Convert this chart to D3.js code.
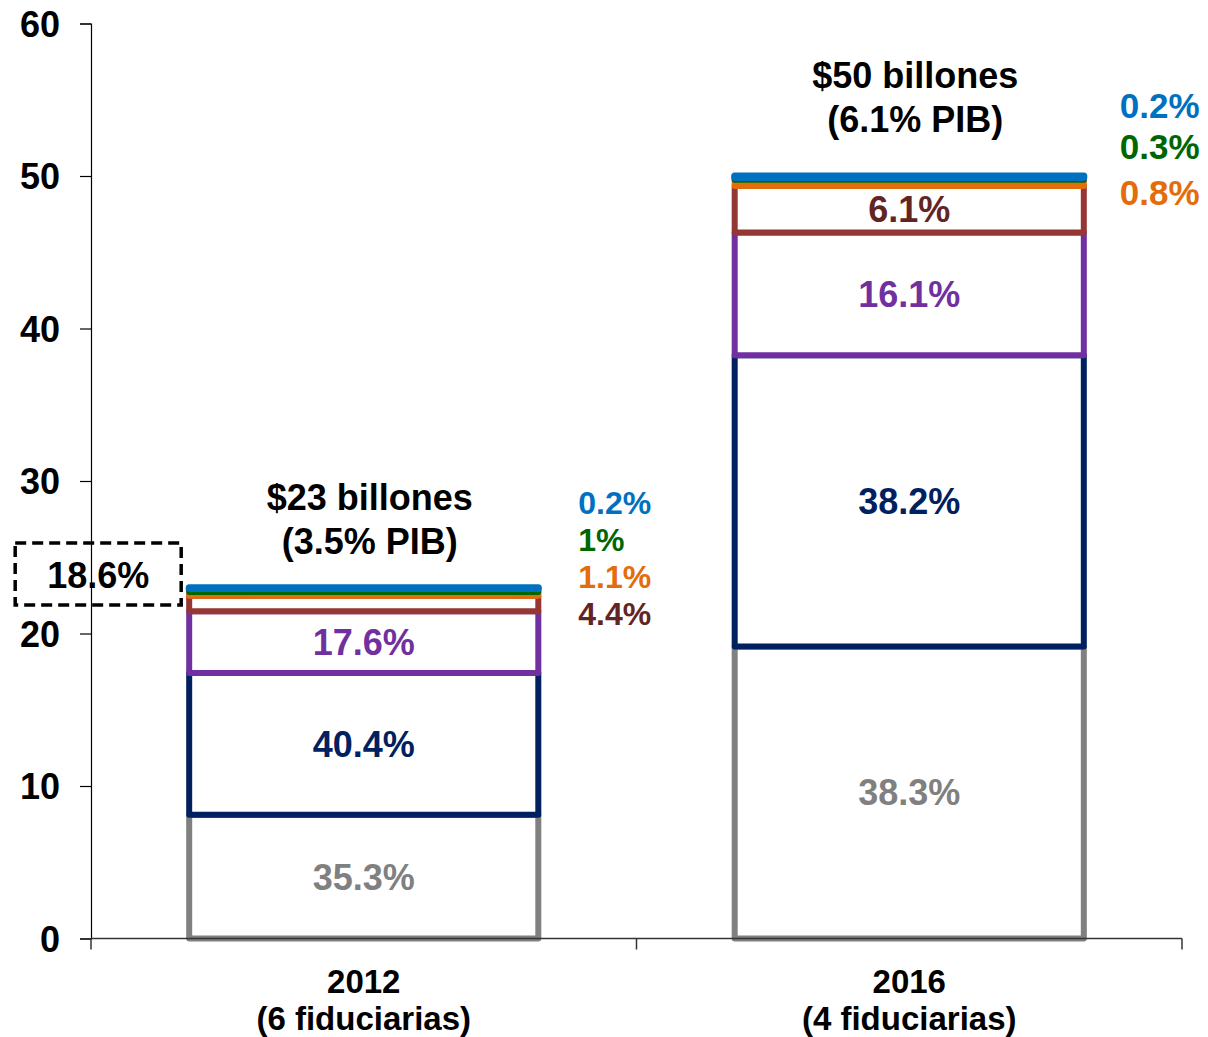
<!DOCTYPE html>
<html>
<head>
<meta charset="utf-8">
<script src="https://cdn.jsdelivr.net/npm/d3@7"></script>
<style>
  body { margin: 0; background: #fff; }
  svg text { font-family: "Liberation Sans", Arial, sans-serif; font-weight: bold; }
</style>
</head>
<body>
<script>
// datos
var categories = ["2012", "2016"];
var subLabels = ["(6 fiduciarias)", "(4 fiduciarias)"];
var totals = [23, 50];
var totalLines = [["$23 billones", "(3.5% PIB)"], ["$50 billones", "(6.1% PIB)"]];
var seriesKeys = ["gris", "marino", "morado", "cafe", "naranja", "verde", "azul"];
var shares2012 = [35.3, 40.4, 17.6, 4.4, 1.1, 1, 0.2];
var shares2016 = [38.3, 38.2, 16.1, 6.1, 0.8, 0.3, 0.2];
var shareLabels2012 = ["35.3%", "40.4%", "17.6%", "4.4%", "1.1%", "1%", "0.2%"];
var shareLabels2016 = ["38.3%", "38.2%", "16.1%", "6.1%", "0.8%", "0.3%", "0.2%"];
var yTicks = [0, 10, 20, 30, 40, 50, 60];
var boxLabel = "18.6%";

var strokeColors = ["#808080", "#002060", "#7030A0", "#953735", "#E46C0A", "#006600", "#0070C0"];
var textColors   = ["#808080", "#002060", "#7030A0", "#632523", "#E46C0A", "#006600", "#0070C0"];

var width = 1208, height = 1037;
var fs = "36px";
var svg = d3.select("body").append("svg")
    .attr("width", width)
    .attr("height", height);

var x = d3.scaleBand().domain(categories).range([91, 1182]).paddingInner(0.36).paddingOuter(0.18);
var y = d3.scaleLinear().domain([0, 60]).range([938.5, 23.5]);

// tabla para d3.stack
var shares = [shares2012, shares2016];
var labels = [shareLabels2012, shareLabels2016];
var table = categories.map(function (c, i) {
    var row = { cat: c };
    seriesKeys.forEach(function (k, j) { row[k] = totals[i] * shares[i][j] / 100; });
    return row;
});
var stacked = d3.stack().keys(seriesKeys)(table);

// segmentos: rect blanco con borde de color, de abajo hacia arriba
stacked.forEach(function (layer, j) {
    svg.selectAll(".seg" + j)
        .data(layer)
        .enter()
        .append("rect")
        .attr("class", "seg" + j)
        .attr("x", function (d) { return x(d.data.cat); })
        .attr("width", x.bandwidth())
        .attr("y", function (d) { return y(d[1]); })
        .attr("height", function (d) { return y(d[0]) - y(d[1]); })
        .style("fill", "white")
        .style("stroke", strokeColors[j])
        .style("stroke-width", j == seriesKeys.length - 1 ? 7 : 6)
        .style("stroke-linejoin", "round");
});

// ejes
var yAxis = svg.append("g").attr("transform", "translate(91,0)")
    .call(d3.axisLeft(y).tickValues(yTicks).tickSize(11).tickPadding(20).tickFormat(d3.format("d")));
yAxis.select(".domain").attr("stroke", "#000").attr("stroke-width", 1.2);
yAxis.selectAll(".tick line").attr("stroke", "#000").attr("stroke-width", 1.2);
yAxis.selectAll(".tick text").style("font-size", fs).attr("fill", "#000").attr("dy", "0.36em");

var xg = svg.append("g").attr("transform", "translate(0," + y(0) + ")");
xg.append("line").attr("x1", 91).attr("x2", 1182).attr("stroke", "#333").attr("stroke-width", 1.5);
xg.selectAll(".xt")
    .data([91].concat(categories.map(function (c) { return x(c) + x.bandwidth() + x.step() * 0.18; })))
    .enter().append("line")
    .attr("class", "xt")
    .attr("x1", function (d) { return d; }).attr("x2", function (d) { return d; })
    .attr("y1", 0).attr("y2", 11)
    .attr("stroke", "#333").attr("stroke-width", 1.5);

categories.forEach(function (c, i) {
    var cx = x(c) + x.bandwidth() / 2;
    xg.append("text").attr("x", cx).attr("y", 54).attr("text-anchor", "middle")
        .style("font-size", "33px").text(c);
    xg.append("text").attr("x", cx).attr("y", 91).attr("text-anchor", "middle")
        .style("font-size", "33px").text(subLabels[i]);
});

// etiquetas dentro de los segmentos
var insideCount = [3, 4];
stacked.forEach(function (layer, j) {
    layer.forEach(function (d, i) {
        if (j >= insideCount[i]) return;
        svg.append("text")
            .attr("x", x(d.data.cat) + x.bandwidth() / 2)
            .attr("y", (y(d[0]) + y(d[1])) / 2)
            .attr("dy", "0.36em")
            .attr("text-anchor", "middle")
            .style("font-size", fs)
            .style("fill", textColors[j])
            .text(labels[i][j]);
    });
});

// etiquetas fuera de la barra (segmentos pequeños)
var outsideDy = [[37, 0, -37, -74], [29, -17, -58]];
var outsideDx = [40, 36];
var outsideFs = ["32px", "35px"];
categories.forEach(function (c, i) {
    var k = 0;
    for (var j = insideCount[i]; j < seriesKeys.length; j++) {
        svg.append("text")
            .attr("x", x(c) + x.bandwidth() + outsideDx[i])
            .attr("y", y(totals[i]) + outsideDy[i][k])
            .style("font-size", outsideFs[i])
            .style("fill", textColors[j])
            .text(labels[i][j]);
        k++;
    }
});

// totales sobre las barras
var totalDy = [[-78, -34], [-88, -44]];
categories.forEach(function (c, i) {
    totalLines[i].forEach(function (t, k) {
        svg.append("text")
            .attr("x", x(c) + x.bandwidth() / 2 + 6)
            .attr("y", y(totals[i]) + totalDy[i][k])
            .attr("text-anchor", "middle")
            .style("font-size", fs)
            .style("fill", "#000")
            .text(t);
    });
});

// recuadro punteado
var bx = x(categories[0]);
svg.append("rect")
    .attr("x", bx - 174).attr("y", 543)
    .attr("width", 166).attr("height", 62)
    .style("fill", "none").style("stroke", "#000")
    .style("stroke-width", 3.5).style("stroke-dasharray", "11,6");
svg.append("text")
    .attr("x", bx - 91).attr("y", 575).attr("dy", "0.36em")
    .attr("text-anchor", "middle")
    .style("font-size", fs).style("fill", "#000")
    .text(boxLabel);
</script>
</body>
</html>
